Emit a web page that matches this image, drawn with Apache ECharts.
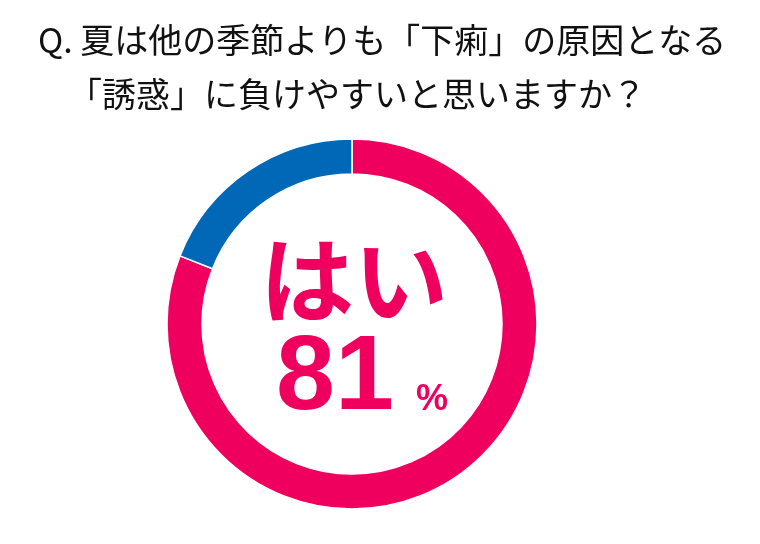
<!DOCTYPE html>
<html>
<head>
<meta charset="utf-8">
<script src="https://cdn.jsdelivr.net/npm/echarts@6/dist/echarts.min.js"></script>
<style>
html,body{margin:0;padding:0;background:#fff;}
#chart{width:760px;height:544px;}
</style>
</head>
<body>
<div id="chart"></div>
<script>
const titleLines = ['Q. 夏は他の季節よりも「下痢」の原因となる', '「誘惑」に負けやすいと思いますか？'];
const categories = ['はい', 'いいえ'];
const values = [81, 19];
const colors = ['#EF005F', '#0068B7'];
const unit = '%';

const chart = echarts.init(document.getElementById('chart'));
const titleFont = '"Noto Sans CJK JP", "Noto Sans", sans-serif';
chart.setOption({
  backgroundColor: '#ffffff',
  animation: false,
  title: [
    { text: titleLines[0], left: 33, top: 18, textStyle: { fontFamily: titleFont, fontWeight: 'normal', fontSize: 34, color: '#111' } },
    { text: titleLines[1], left: 63, top: 72, textStyle: { fontFamily: titleFont, fontWeight: 'normal', fontSize: 34, color: '#111' } }
  ],
  series: [{
    type: 'pie',
    center: [352, 324],
    radius: [150, 185],
    startAngle: 90,
    clockwise: true,
    label: { show: false },
    labelLine: { show: false },
    emphasis: { disabled: true },
    itemStyle: { borderColor: '#ffffff', borderWidth: 1.5 },
    data: categories.map((c, i) => ({ name: c, value: values[i], itemStyle: { color: colors[i] } }))
  }],
  graphic: [
    { type: 'text', style: { text: categories[0], x: 354, y: 280, align: 'center', verticalAlign: 'middle',
      font: 'bold 94px "Noto Sans CJK JP", sans-serif', fill: colors[0] } },
    { type: 'text', style: { text: String(values[0]), x: 335, y: 380, align: 'center', verticalAlign: 'middle',
      font: 'bold 106px "Liberation Sans", Arial, sans-serif', fill: colors[0] } },
    { type: 'text', style: { text: unit, x: 432, y: 400, align: 'center', verticalAlign: 'middle',
      font: 'bold 36px "Liberation Sans", Arial, sans-serif', fill: colors[0] } }
  ]
});
</script>
</body>
</html>
